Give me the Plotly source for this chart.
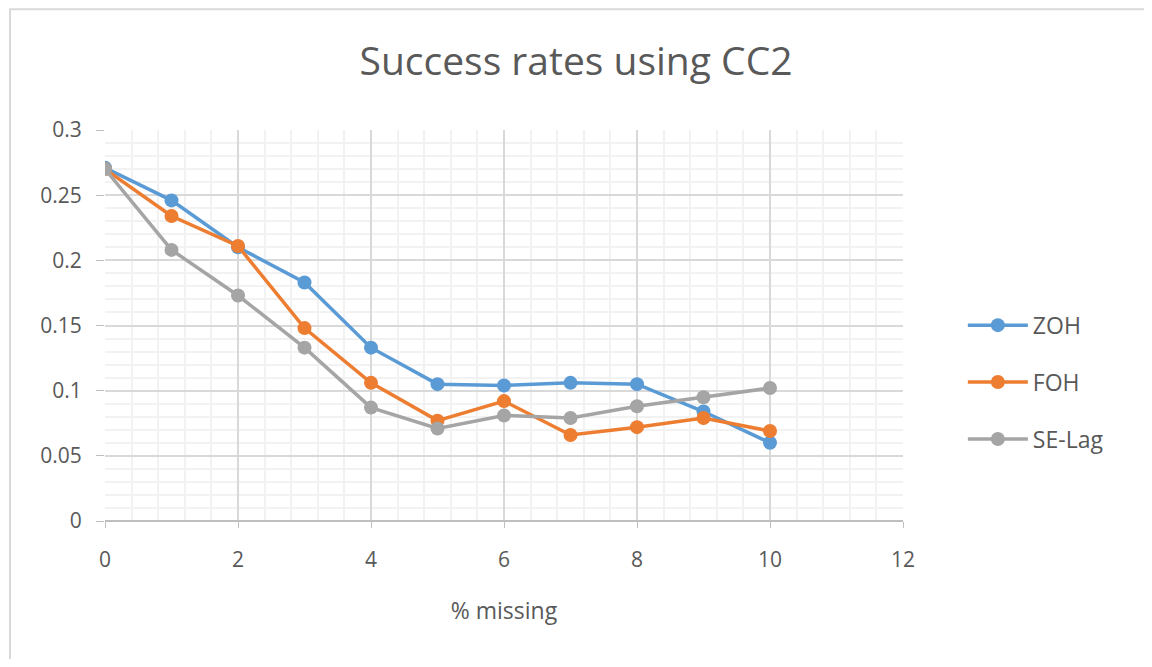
import plotly.graph_objects as go

pct_missing = [0, 1, 2, 3, 4, 5, 6, 7, 8, 9, 10]
zoh = [0.271, 0.246, 0.210, 0.183, 0.133, 0.105, 0.104, 0.106, 0.105, 0.084, 0.060]
foh = [0.270, 0.234, 0.211, 0.148, 0.106, 0.077, 0.092, 0.066, 0.072, 0.079, 0.069]
se_lag = [0.270, 0.208, 0.173, 0.133, 0.087, 0.071, 0.081, 0.079, 0.088, 0.095, 0.102]

series = [("ZOH", zoh, "#5B9BD5"), ("FOH", foh, "#ED7D31"), ("SE-Lag", se_lag, "#A5A5A5")]

fig = go.Figure()
for name, vals, col in series:
    fig.add_trace(go.Scatter(
        x=pct_missing, y=vals, name=name, legendgroup=name,
        mode="lines+markers",
        line=dict(color=col, width=3.5),
        marker=dict(color=col, size=14),
    ))

txt = "#595959"
# page has 8px body margin, so the figure is a bit smaller than the window
fig.update_layout(
    width=1136, height=651,
    margin=dict(l=97, r=241, t=122, b=138),
    paper_bgcolor="white", plot_bgcolor="white",
    font=dict(family="Open Sans, Lato, sans-serif", color=txt, size=21),
    title=dict(text="Success rates using CC2", x=0.5, xref="container", xanchor="center",
               y=0.918, yanchor="middle", font=dict(size=39, color=txt)),
    legend=dict(x=1.075, y=0.355, xanchor="left", yanchor="middle",
                tracegroupgap=24, font=dict(size=23, color=txt),
                itemwidth=60),
    showlegend=True,
    xaxis=dict(range=[0, 12], dtick=2, tick0=0, showline=False, zeroline=False,
               gridcolor="#D9D9D9", gridwidth=1.5,
               ticks="outside", ticklen=6, tickcolor="#BFBFBF",
               ticklabelstandoff=14,
               minor=dict(dtick=0.4, showgrid=True, gridcolor="#F2F2F2", gridwidth=1.5),
               title=dict(text="% missing", standoff=30, font=dict(size=23, color=txt))),
    yaxis=dict(range=[0, 0.3], dtick=0.05, tick0=0, showline=False, zeroline=True,
               zerolinecolor="#BFBFBF", zerolinewidth=2,
               gridcolor="#D9D9D9", gridwidth=1.5,
               ticks="outside", ticklen=8, tickcolor="#BFBFBF",
               ticklabelstandoff=10,
               minor=dict(dtick=0.01, showgrid=True, gridcolor="#F2F2F2", gridwidth=1.5)),
    shapes=[dict(type="rect", xref="paper", yref="paper",
                 x0=-0.119, x1=1.35, y0=-0.4, y1=1.309,
                 line=dict(color="#D9D9D9", width=2), layer="below")],
)

fig.write_html("out.html")
